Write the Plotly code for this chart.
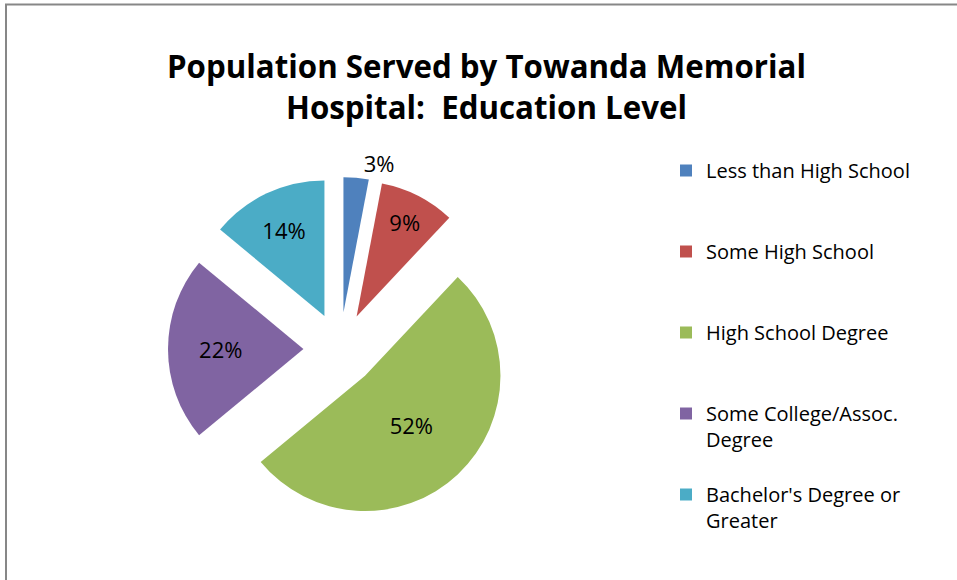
import plotly.graph_objects as go

categories = ["Less than High School", "Some High School", "High School Degree",
              "Some College/Assoc. Degree", "Bachelor's Degree or Greater"]
values = [3, 9, 52, 22, 14]
colors = ["#4F81BD", "#C0504D", "#9BBB59", "#8064A2", "#4BACC6"]
title_lines = ["Population Served by Towanda Memorial", "Hospital:  Education Level"]

W, H = 957, 580
FONT = "Open Sans"

# legend labels: wrap long names, pad to 3 lines for even spacing like Excel
wrap = {"Some College/Assoc. Degree": ["Some College/Assoc.", "Degree"],
        "Bachelor's Degree or Greater": ["Bachelor's Degree or", "Greater"]}
legend_labels = []
for i, c in enumerate(categories):
    lines = wrap.get(c, [c])
    if i < len(categories) - 1:
        lines = lines + ["\u00a0"] * (3 - len(lines))
    legend_labels.append("<br>".join(lines))

fig = go.Figure()
fig.add_trace(go.Pie(
    labels=legend_labels,
    values=values,
    sort=False,
    direction="clockwise",
    rotation=0,
    pull=[0.27] * len(values),
    marker=dict(colors=colors, line=dict(width=0)),
    textinfo="percent",
    texttemplate="%{percent:.0%}",
    textposition=["outside", "inside", "inside", "inside", "inside"],
    insidetextorientation="horizontal",
    textfont=dict(family=FONT, size=22, color="black"),
    domain=dict(x=[168 / W, 512 / W], y=[1 - 521 / H, 1 - 177 / H]),
    hoverinfo="skip",
))

fig.update_layout(
    width=W, height=H,
    margin=dict(l=0, r=0, t=0, b=0, autoexpand=False),
    paper_bgcolor="white",
    plot_bgcolor="white",
    font=dict(family=FONT, color="black"),
    showlegend=True,
    legend=dict(
        x=666 / W, xanchor="left",
        y=1 - 151 / H, yanchor="top",
        valign="top",
        font=dict(family=FONT, size=20, color="black"),
        bgcolor="rgba(0,0,0,0)",
    ),
    annotations=[dict(
        text="<b>" + "<br>".join(title_lines) + "</b>",
        x=487 / W, y=1 - 43 / H, xref="paper", yref="paper",
        xanchor="center", yanchor="top",
        showarrow=False,
        font=dict(family=FONT, size=31.25, color="black"),
    )],
    shapes=[dict(
        type="rect", xref="paper", yref="paper",
        x0=6 / W, x1=2, y0=-1, y1=1 - 4.5 / H,
        line=dict(color="#878787", width=2),
        fillcolor="rgba(0,0,0,0)",
    )],
)

fig.write_html("out.html",
               config={"displayModeBar": False},
               post_script="document.body.style.margin='0';"
                           "document.body.style.overflow='hidden';")
